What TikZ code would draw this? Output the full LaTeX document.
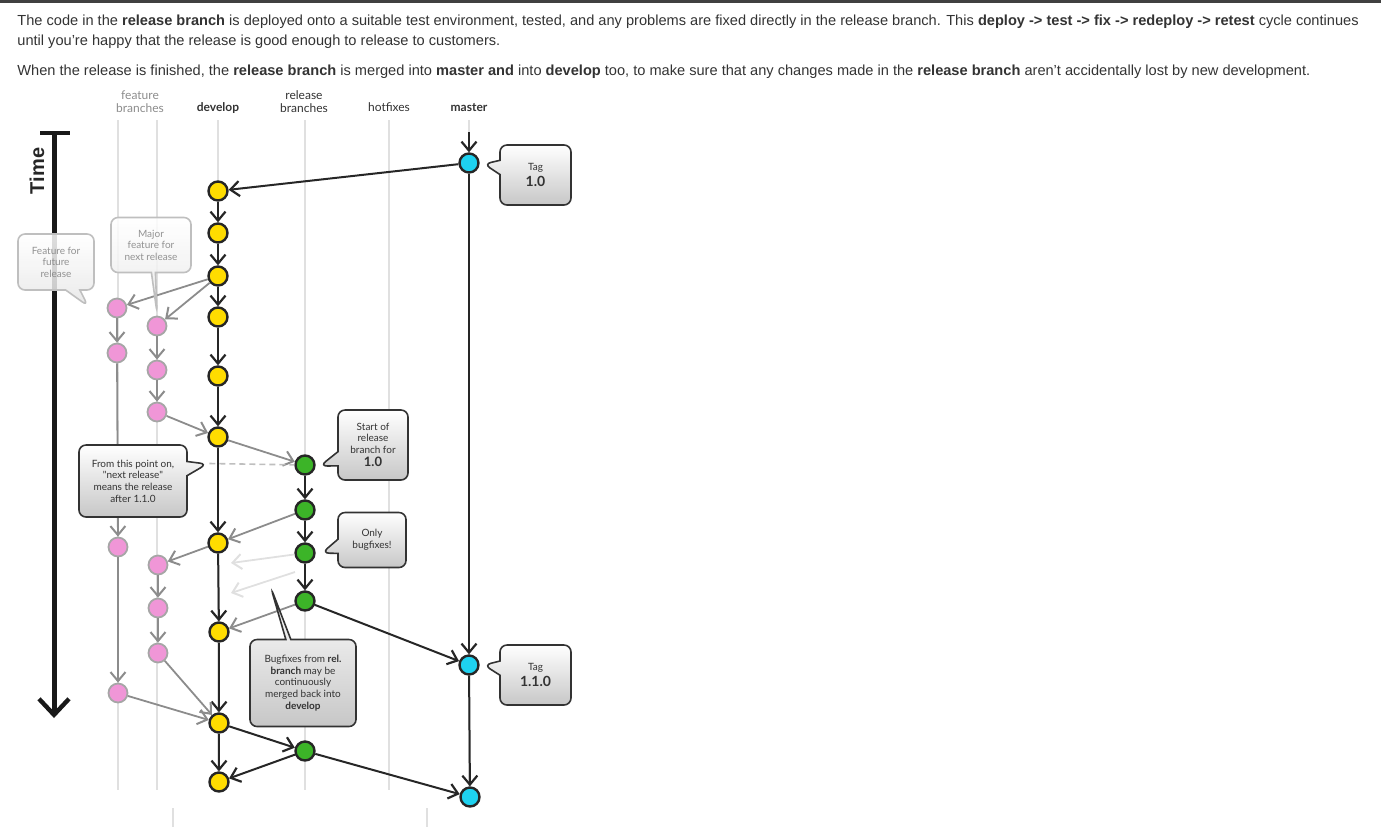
\documentclass[tikz,border=0pt]{standalone}
\usepackage{fontspec}
\setmainfont{Liberation Sans}
\newfontfamily\lato{Lato}
\usetikzlibrary{arrows.meta,shapes.callouts}

\definecolor{devyel}{RGB}{255,220,0}
\definecolor{relgrn}{RGB}{60,180,40}
\definecolor{mstcyn}{RGB}{30,210,240}
\definecolor{featpnk}{RGB}{240,150,215}
\definecolor{txtgry}{RGB}{51,51,51}

\begin{document}
\begin{tikzpicture}[x=0.5pt,y=-0.5pt]

\tikzstyle{lane}=[line width=1.4pt,black!12]
\tikzstyle{cmt}=[circle,minimum size=9.5pt,inner sep=0pt,line width=1.2pt,draw=black!85]
\tikzstyle{dev}=[cmt,fill=devyel]
\tikzstyle{rel}=[cmt,fill=relgrn]
\tikzstyle{mst}=[cmt,fill=mstcyn]
\tikzstyle{feat}=[cmt,fill=featpnk,draw=black!35,line width=0.9pt]
\tikzstyle{blk}=[line width=1pt,black!85,-{Straight Barb[length=4.5pt,width=7.5pt,line width=1.1pt]}]
\tikzstyle{gry}=[line width=0.9pt,black!45,-{Straight Barb[length=4.5pt,width=7.5pt,line width=1pt]}]
\tikzstyle{fnt}=[line width=0.9pt,black!12,-{Straight Barb[length=4.5pt,width=7.5pt,line width=1pt]}]
\tikzstyle{hdr}=[font=\lato\fontsize{6}{6.5}\selectfont,align=center,text=black!80,inner sep=0pt]
\tikzstyle{note}=[rectangle callout,rounded corners=3.5pt,draw=black!80,line width=0.8pt,top color=white,bottom color=black!22,inner sep=0pt,align=center,font=\lato\fontsize{5}{5.8}\selectfont,text=black!80]
\tikzstyle{oldnote}=[note,draw=black!25,top color=white,bottom color=black!10,text=black!50,fill opacity=0.85]

\useasboundingbox (0,0) rectangle (1381,827);
\fill[black!75] (0,0) rectangle (1381,3);

% text above the picture
\node[anchor=base west,inner sep=0pt,text=txtgry,font=\fontsize{7.3}{8}\selectfont] (t1) at (17,25) {The code in the \textbf{release branch} is deployed onto a suitable test environment, tested, and any problems are fixed directly in the release branch. This \textbf{deploy -> test -> fix -> redeploy -> retest} cycle continues};
\node[anchor=base west,inner sep=0pt,text=txtgry,font=\fontsize{7.3}{8}\selectfont] (t2) at (17,45) {until you’re happy that the release is good enough to release to customers.};
\node[anchor=base west,inner sep=0pt,text=txtgry,font=\fontsize{7.3}{8}\selectfont] (t3) at (17,75) {When the release is finished, the \textbf{release branch} is merged into \textbf{master and} into \textbf{develop} too, to make sure that any changes made in the \textbf{release branch} aren’t accidentally lost by new development.};

% lane heads
\node[hdr,text=black!45] (hfeat) at (140,102) {feature\\branches};
\node[hdr,font=\lato\bfseries\fontsize{6}{6.5}\selectfont] (hdev) at (218,108) {develop};
\node[hdr] (hrel) at (304,102) {release\\branches};
\node[hdr] (hhot) at (389,107) {hotfixes};
\node[hdr,font=\lato\bfseries\fontsize{6}{6.5}\selectfont] (hmst) at (469,108) {master};

\foreach \lx in {118,157,218,305,389,469}
  \draw[lane] (\lx,120) -- (\lx,790);
\draw[lane] (173,808) -- (173,827);
\draw[lane] (427,808) -- (427,827);

% time axis
\coordinate (ttl) at (40,133);
\coordinate (ttr) at (70,133);
\coordinate (ttop) at (54,133);
\coordinate (tbot) at (54,718);
\draw[line width=2pt,black!90] (ttl) -- (ttr);
\draw[line width=2.5pt,black!90,-{Straight Barb[length=8pt,width=15pt,line width=2.2pt]}] (ttop) -- (tbot);
\node[rotate=90,font=\bfseries\fontsize{10}{10}\selectfont,text=black!85] (time) at (37,171) {Time};

% master
\coordinate (mtop) at (469,132);
\node[mst] (m1) at (469,163) {};
\node[mst] (m2) at (469,665) {};
\node[mst] (m3) at (470,797) {};

% develop
\node[dev] (d1) at (218,191) {};
\node[dev] (d2) at (218,233) {};
\node[dev] (d3) at (218,276) {};
\node[dev] (d4) at (218,317) {};
\node[dev] (d5) at (218,376) {};
\node[dev] (d6) at (218,437) {};
\node[dev] (d7) at (218,543) {};
\node[dev] (d8) at (219,632) {};
\node[dev] (d9) at (219,723) {};
\node[dev] (d10) at (219,782) {};

% release
\node[rel] (r1) at (305,465) {};
\node[rel] (r2) at (305,510) {};
\node[rel] (r3) at (305,553) {};
\node[rel] (r4) at (305,601) {};
\node[rel] (r5) at (305,751) {};

% features
\node[feat] (fa1) at (117,308) {};
\node[feat] (fa2) at (117,353) {};
\node[feat] (fa3) at (118,547) {};
\node[feat] (fa4) at (118,693) {};
\node[feat] (fb1) at (157,326) {};
\node[feat] (fb2) at (157,370) {};
\node[feat] (fb3) at (157,412) {};
\node[feat] (fb4) at (158,565) {};
\node[feat] (fb5) at (158,608) {};
\node[feat] (fb6) at (158,653) {};

\coordinate (lt1) at (231,563);
\coordinate (lt2s) at (295,572);
\coordinate (lt2) at (231,593);

\draw[blk] (mtop) -- (m1);
\draw[blk] (m1) -- (d1);
\draw[blk] (m1) -- (m2);
\draw[blk] (m2) -- (m3);
\draw[blk] (d1) -- (d2);
\draw[blk] (d2) -- (d3);
\draw[blk] (d3) -- (d4);
\draw[blk] (d4) -- (d5);
\draw[blk] (d5) -- (d6);
\draw[blk] (d6) -- (d7);
\draw[blk] (d7) -- (d8);
\draw[blk] (d8) -- (d9);
\draw[blk] (d9) -- (d10);
\draw[blk] (r1) -- (r2);
\draw[blk] (r2) -- (r3);
\draw[blk] (r3) -- (r4);
\draw[blk] (r4) -- (m2);
\draw[blk] (d9) -- (r5);
\draw[blk] (r5) -- (d10);
\draw[blk] (r5) -- (m3);

\draw[gry] (d3) -- (fa1);
\draw[gry] (d3) -- (fb1);
\draw[gry] (fa1) -- (fa2);
\draw[gry] (fa2) -- (fa3);
\draw[gry] (fa3) -- (fa4);
\draw[gry] (fa4) -- (d9);
\draw[gry] (fb1) -- (fb2);
\draw[gry] (fb2) -- (fb3);
\draw[gry] (fb3) -- (d6);
\draw[gry] (d6) -- (r1);
\draw[gry] (r2) -- (d7);
\draw[gry] (d7) -- (fb4);
\draw[gry] (fb4) -- (fb5);
\draw[gry] (fb5) -- (fb6);
\draw[gry] (fb6) -- (d9);
\draw[gry] (r4) -- (d8);

\draw[fnt] (r3) -- (lt1);
\draw[fnt] (lt2s) -- (lt2);

% notes
\node[note,minimum width=35.5pt,minimum height=30pt,callout absolute pointer={(484,164)}] (tag10) at (535.5,175) {Tag\\[0.8pt]{\fontsize{7}{7.5}\selectfont\bfseries 1.0}};
\node[note,minimum width=35.5pt,minimum height=30pt,callout absolute pointer={(484,665)}] (tag110) at (535.5,675) {Tag\\[0.8pt]{\fontsize{7}{7.5}\selectfont\bfseries 1.1.0}};
\node[note,minimum width=35pt,minimum height=35pt,callout absolute pointer={(320,466)}] (relstart) at (373,445) {Start of\\release\\branch for\\[0.8pt]{\fontsize{6.5}{7}\selectfont\bfseries 1.0}};
\node[note,minimum width=34pt,minimum height=27.5pt,callout absolute pointer={(322,553)}] (onlyfix) at (372,540) {Only\\bugfixes!};
\node[note,minimum width=54pt,minimum height=36pt,callout absolute pointer={(207,464)}] (nextrel) at (133,481) {From this point on,\\"next release"\\means the release\\after 1.1.0};
\node[note,minimum width=53pt,minimum height=43.5pt,callout pointer width=2.5pt,callout absolute pointer={(271,588)}] (mergeback) at (303,683) {Bugfixes from \textbf{rel.}\\\textbf{branch} may be\\continuously\\merged back into\\\textbf{develop}};
\node[oldnote,minimum width=40pt,minimum height=27.5pt,callout pointer width=2pt,callout absolute pointer={(157,313)}] (majorfeat) at (151,245) {Major\\feature for\\next release};
\node[oldnote,minimum width=38pt,minimum height=28pt,callout absolute pointer={(88,306)}] (futfeat) at (56,262) {Feature for\\future\\release};

\draw[black!25,line width=0.8pt,dash pattern=on 3pt off 2pt] (nextrel.pointer) -- (r1);

\end{tikzpicture}
\end{document}
